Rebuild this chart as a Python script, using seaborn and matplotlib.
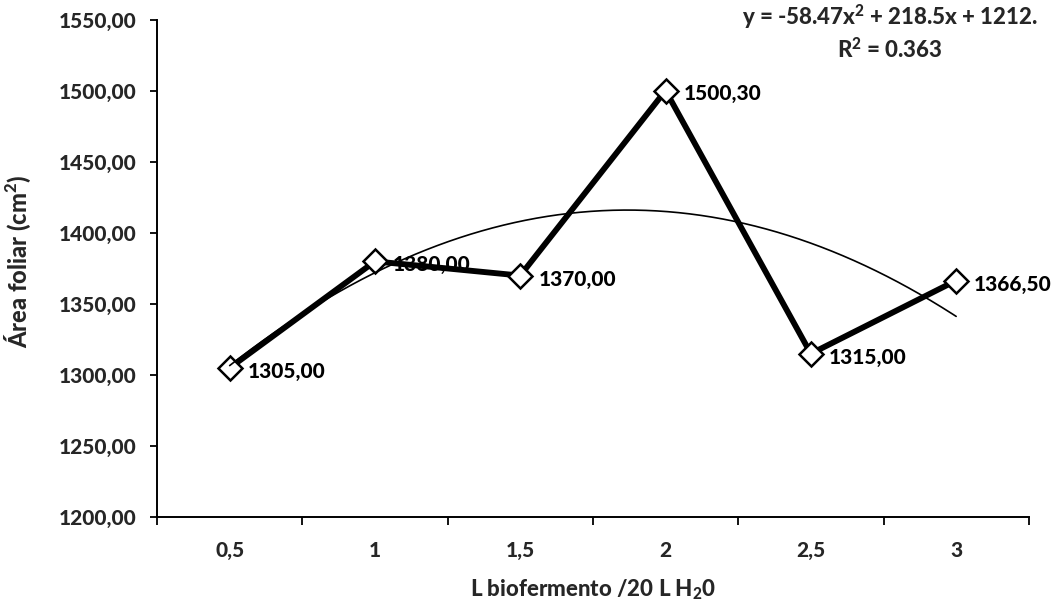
import numpy as np
import pandas as pd
import matplotlib
matplotlib.use("Agg")
import matplotlib.pyplot as plt
import seaborn as sns

# Data
doses = [0.5, 1.0, 1.5, 2.0, 2.5, 3.0]
tick_labels = ["0,5", "1", "1,5", "2", "2,5", "3"]
area = [1305.00, 1380.00, 1370.00, 1500.30, 1315.00, 1366.50]
point_labels = ["1305,00", "1380,00", "1370,00", "1500,30", "1315,00", "1366,50"]
coef = [-58.47, 218.5, 1212.0]  # trend equation shown in chart
y_ticks = [1200, 1250, 1300, 1350, 1400, 1450, 1500, 1550]

sns.set_theme(style="white")
W = 900
plt.rcParams["font.family"] = ["Lato", "DejaVu Sans"]
plt.rcParams["font.weight"] = W
plt.rcParams["mathtext.fontset"] = "custom"
plt.rcParams["mathtext.rm"] = "Lato:black"
plt.rcParams["mathtext.it"] = "Lato:black"
plt.rcParams["mathtext.bf"] = "Lato:black"
plt.rcParams["mathtext.default"] = "rm"

fig = plt.figure(figsize=(10.58, 6.04), dpi=100)
ax = fig.add_axes([0.1484, 0.144, 0.824, 0.823])

df = pd.DataFrame({"x": doses, "y": area})
sns.lineplot(data=df, x="x", y="y", ax=ax, color="black", linewidth=4.2,
             marker="D", markersize=12.5, markerfacecolor="white",
             markeredgecolor="black", markeredgewidth=1.8, zorder=3)

xt = np.linspace(doses[0], doses[-1], 200)
trend = pd.DataFrame({"x": xt, "y": np.polyval(coef, xt)})
sns.lineplot(data=trend, x="x", y="y", ax=ax, color="black", linewidth=1.2, zorder=4)

for x, y, lab in zip(doses, area, point_labels):
    ax.annotate(lab, (x, y), xytext=(13, -2.5), textcoords="offset points",
                ha="left", va="center", fontsize=15, fontweight=W, color="black",
                zorder=5)

ax.set_xlim(0.25, 3.25)
ax.set_ylim(1200, 1550)
ax.set_xticks(doses)
ax.set_xticklabels(tick_labels)
ax.set_xticks(np.arange(0.25, 3.26, 0.5), minor=True)
ax.set_yticks(y_ticks)
ax.set_yticklabels([f"{v:.2f}".replace(".", ",") for v in y_ticks])
ax.tick_params(axis="x", which="major", length=0, pad=17, labelsize=15)
ax.tick_params(axis="x", which="minor", length=6, width=1.3, direction="out", bottom=True, color="black")
ax.tick_params(axis="y", which="major", length=5, width=1.3, direction="out", left=True,
               labelsize=15, pad=10, color="black")
for lab in ax.get_xticklabels() + ax.get_yticklabels():
    lab.set_fontweight(W)

sns.despine(ax=ax)
for s in ["left", "bottom"]:
    ax.spines[s].set_color("black")
    ax.spines[s].set_linewidth(1.4)

ax.set_xlabel("L biofermento /20 L H$_2$0", fontsize=16, fontweight=W)
ax.xaxis.set_label_coords(0.5, -0.122)
ax.set_ylabel("Área foliar (cm$^2$)", fontsize=17, fontweight=W)
ax.yaxis.set_label_coords(-0.142, 0.515)

fig.text(0.841, 0.972, "y = -58.47x$^2$ + 218.5x + 1212.", ha="center", va="center",
         fontsize=16, fontweight=W)
fig.text(0.841, 0.917, "R$^2$ = 0.363", ha="center", va="center",
         fontsize=16, fontweight=W)

fig.savefig("out.png", dpi=100, facecolor="white")
